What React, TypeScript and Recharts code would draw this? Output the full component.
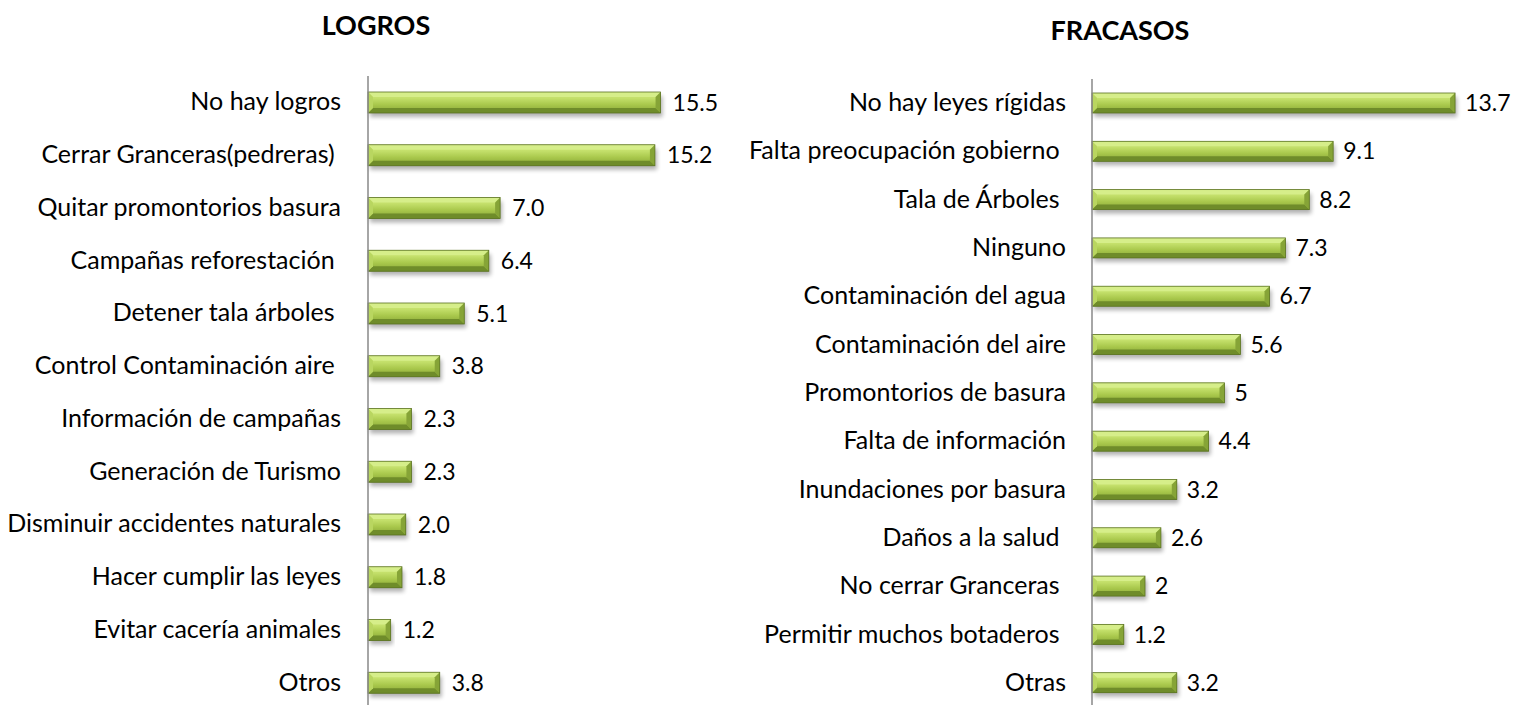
import React from "react";
import { BarChart, Bar, XAxis, YAxis, LabelList } from "recharts";

const logrosCats = [
  "No hay logros",
  "Cerrar Granceras(pedreras) ",
  "Quitar promontorios basura",
  "Campañas reforestación ",
  "Detener tala árboles ",
  "Control Contaminación aire ",
  "Información de campañas",
  "Generación de Turismo",
  "Disminuir accidentes naturales",
  "Hacer cumplir las leyes",
  "Evitar cacería animales",
  "Otros",
];
const logrosVals = [15.5, 15.2, 7.0, 6.4, 5.1, 3.8, 2.3, 2.3, 2.0, 1.8, 1.2, 3.8];

const fracasosCats = [
  "No hay leyes rígidas",
  "Falta preocupación gobierno ",
  "Tala de Árboles ",
  "Ninguno",
  "Contaminación del agua",
  "Contaminación del aire",
  "Promontorios de basura",
  "Falta de información",
  "Inundaciones por basura",
  "Daños a la salud ",
  "No cerrar Granceras ",
  "Permitir muchos botaderos ",
  "Otras",
];
const fracasosVals = [13.7, 9.1, 8.2, 7.3, 6.7, 5.6, 5, 4.4, 3.2, 2.6, 2, 1.2, 3.2];

const FONT = "Lato, 'Open Sans', sans-serif";
const TICK_FS = 25;
const LABEL_FS = 23;

const Tick = (props: any) => {
  const { x, y, payload } = props;
  return (
    <text x={x} y={y} dy={8} textAnchor="end" xmlSpace="preserve" fontFamily={FONT} fontSize={TICK_FS} fill="#000">
      {payload.value}
    </text>
  );
};

const BevelBar = (props: any) => {
  const { x, y, width, height } = props;
  if (!width || width <= 0) return null;
  const b = Math.min(5, width / 2);
  const r = x + width;
  const bt = y + height;
  return (
    <g>
      <rect x={x + 2} y={y + 4} width={width} height={height} fill="#000" opacity={0.3} filter="url(#barShadow)" />
      <rect x={x} y={y} width={width} height={height} fill="url(#barGrad)" />
      <polygon points={`${x},${y} ${r},${y} ${r - b},${y + b} ${x + b},${y + b}`} fill="#d6ee8a" />
      <polygon points={`${x + b},${bt - b} ${r - b},${bt - b} ${r},${bt} ${x},${bt}`} fill="#6f8c2a" />
      <polygon points={`${r - b},${y + b} ${r},${y} ${r},${bt} ${r - b},${bt - b}`} fill="#86a437" />
      <polygon points={`${x},${y} ${x + b},${y + b} ${x + b},${bt - b} ${x},${bt}`} fill="#b9d660" />
      <rect x={x} y={y} width={width} height={height} fill="none" stroke="#5a7222" strokeWidth={0.8} />
    </g>
  );
};

const Defs = () => (
  <defs>
    <linearGradient id="barGrad" x1="0" y1="0" x2="0" y2="1">
      <stop offset="0%" stopColor="#d2ea7c" />
      <stop offset="30%" stopColor="#c3df6a" />
      <stop offset="60%" stopColor="#a9c84c" />
      <stop offset="100%" stopColor="#86a436" />
    </linearGradient>
    <filter id="barShadow" x="-10%" y="-50%" width="120%" height="200%">
      <feGaussianBlur stdDeviation="2" />
    </filter>
  </defs>
);

const logrosData = logrosCats.map((name, i) => ({ name, value: logrosVals[i] }));
const fracasosData = fracasosCats.map((name, i) => ({ name, value: fracasosVals[i] }));

export default function App() {
  return (
    <div style={{ position: "absolute", left: 0, top: 0, width: 1513, height: 705, background: "#fff", overflow: "hidden" }}>
      <div style={{ position: "absolute", left: 376, top: 24, transform: "translate(-50%, -50%)", fontFamily: FONT, fontWeight: 700, fontSize: 27, whiteSpace: "nowrap" }}>
        LOGROS
      </div>
      <div style={{ position: "absolute", left: 1120, top: 29, transform: "translate(-50%, -50%)", fontFamily: FONT, fontWeight: 700, fontSize: 27, whiteSpace: "nowrap" }}>
        FRACASOS
      </div>

      <div style={{ position: "absolute", left: 0, top: 0 }}>
        <BarChart width={740} height={720} data={logrosData} layout="vertical" margin={{ top: 76, right: 70, bottom: 11, left: 0 }}>
          <Defs />
          <XAxis type="number" domain={[0, 16]} hide />
          <YAxis
            type="category"
            dataKey="name"
            width={368}
            axisLine={{ stroke: "#898989", strokeWidth: 1.5 }}
            tickLine={false}
            tickSize={0}
            tickMargin={27}
            tick={<Tick />}
            interval={0}
          />
          <Bar dataKey="value" barSize={21} shape={<BevelBar />} isAnimationActive={false}>
            <LabelList
              dataKey="value"
              position="right"
              offset={12}
              formatter={(v: any) => Number(v).toFixed(1)}
              style={{ fontFamily: FONT, fontSize: LABEL_FS, fill: "#000" }}
            />
          </Bar>
        </BarChart>
      </div>

      <div style={{ position: "absolute", left: 720, top: 0 }}>
        <BarChart width={793} height={720} data={fracasosData} layout="vertical" margin={{ top: 79, right: 50, bottom: 13, left: 0 }}>
          <Defs />
          <XAxis type="number" domain={[0, 14]} hide />
          <YAxis
            type="category"
            dataKey="name"
            width={372}
            axisLine={{ stroke: "#898989", strokeWidth: 1.5 }}
            tickLine={false}
            tickSize={0}
            tickMargin={26}
            tick={<Tick />}
            interval={0}
          />
          <Bar dataKey="value" barSize={20} shape={<BevelBar />} isAnimationActive={false}>
            <LabelList
              dataKey="value"
              position="right"
              offset={10}
              formatter={(v: any) => String(v)}
              style={{ fontFamily: FONT, fontSize: LABEL_FS, fill: "#000" }}
            />
          </Bar>
        </BarChart>
      </div>
    </div>
  );
}
